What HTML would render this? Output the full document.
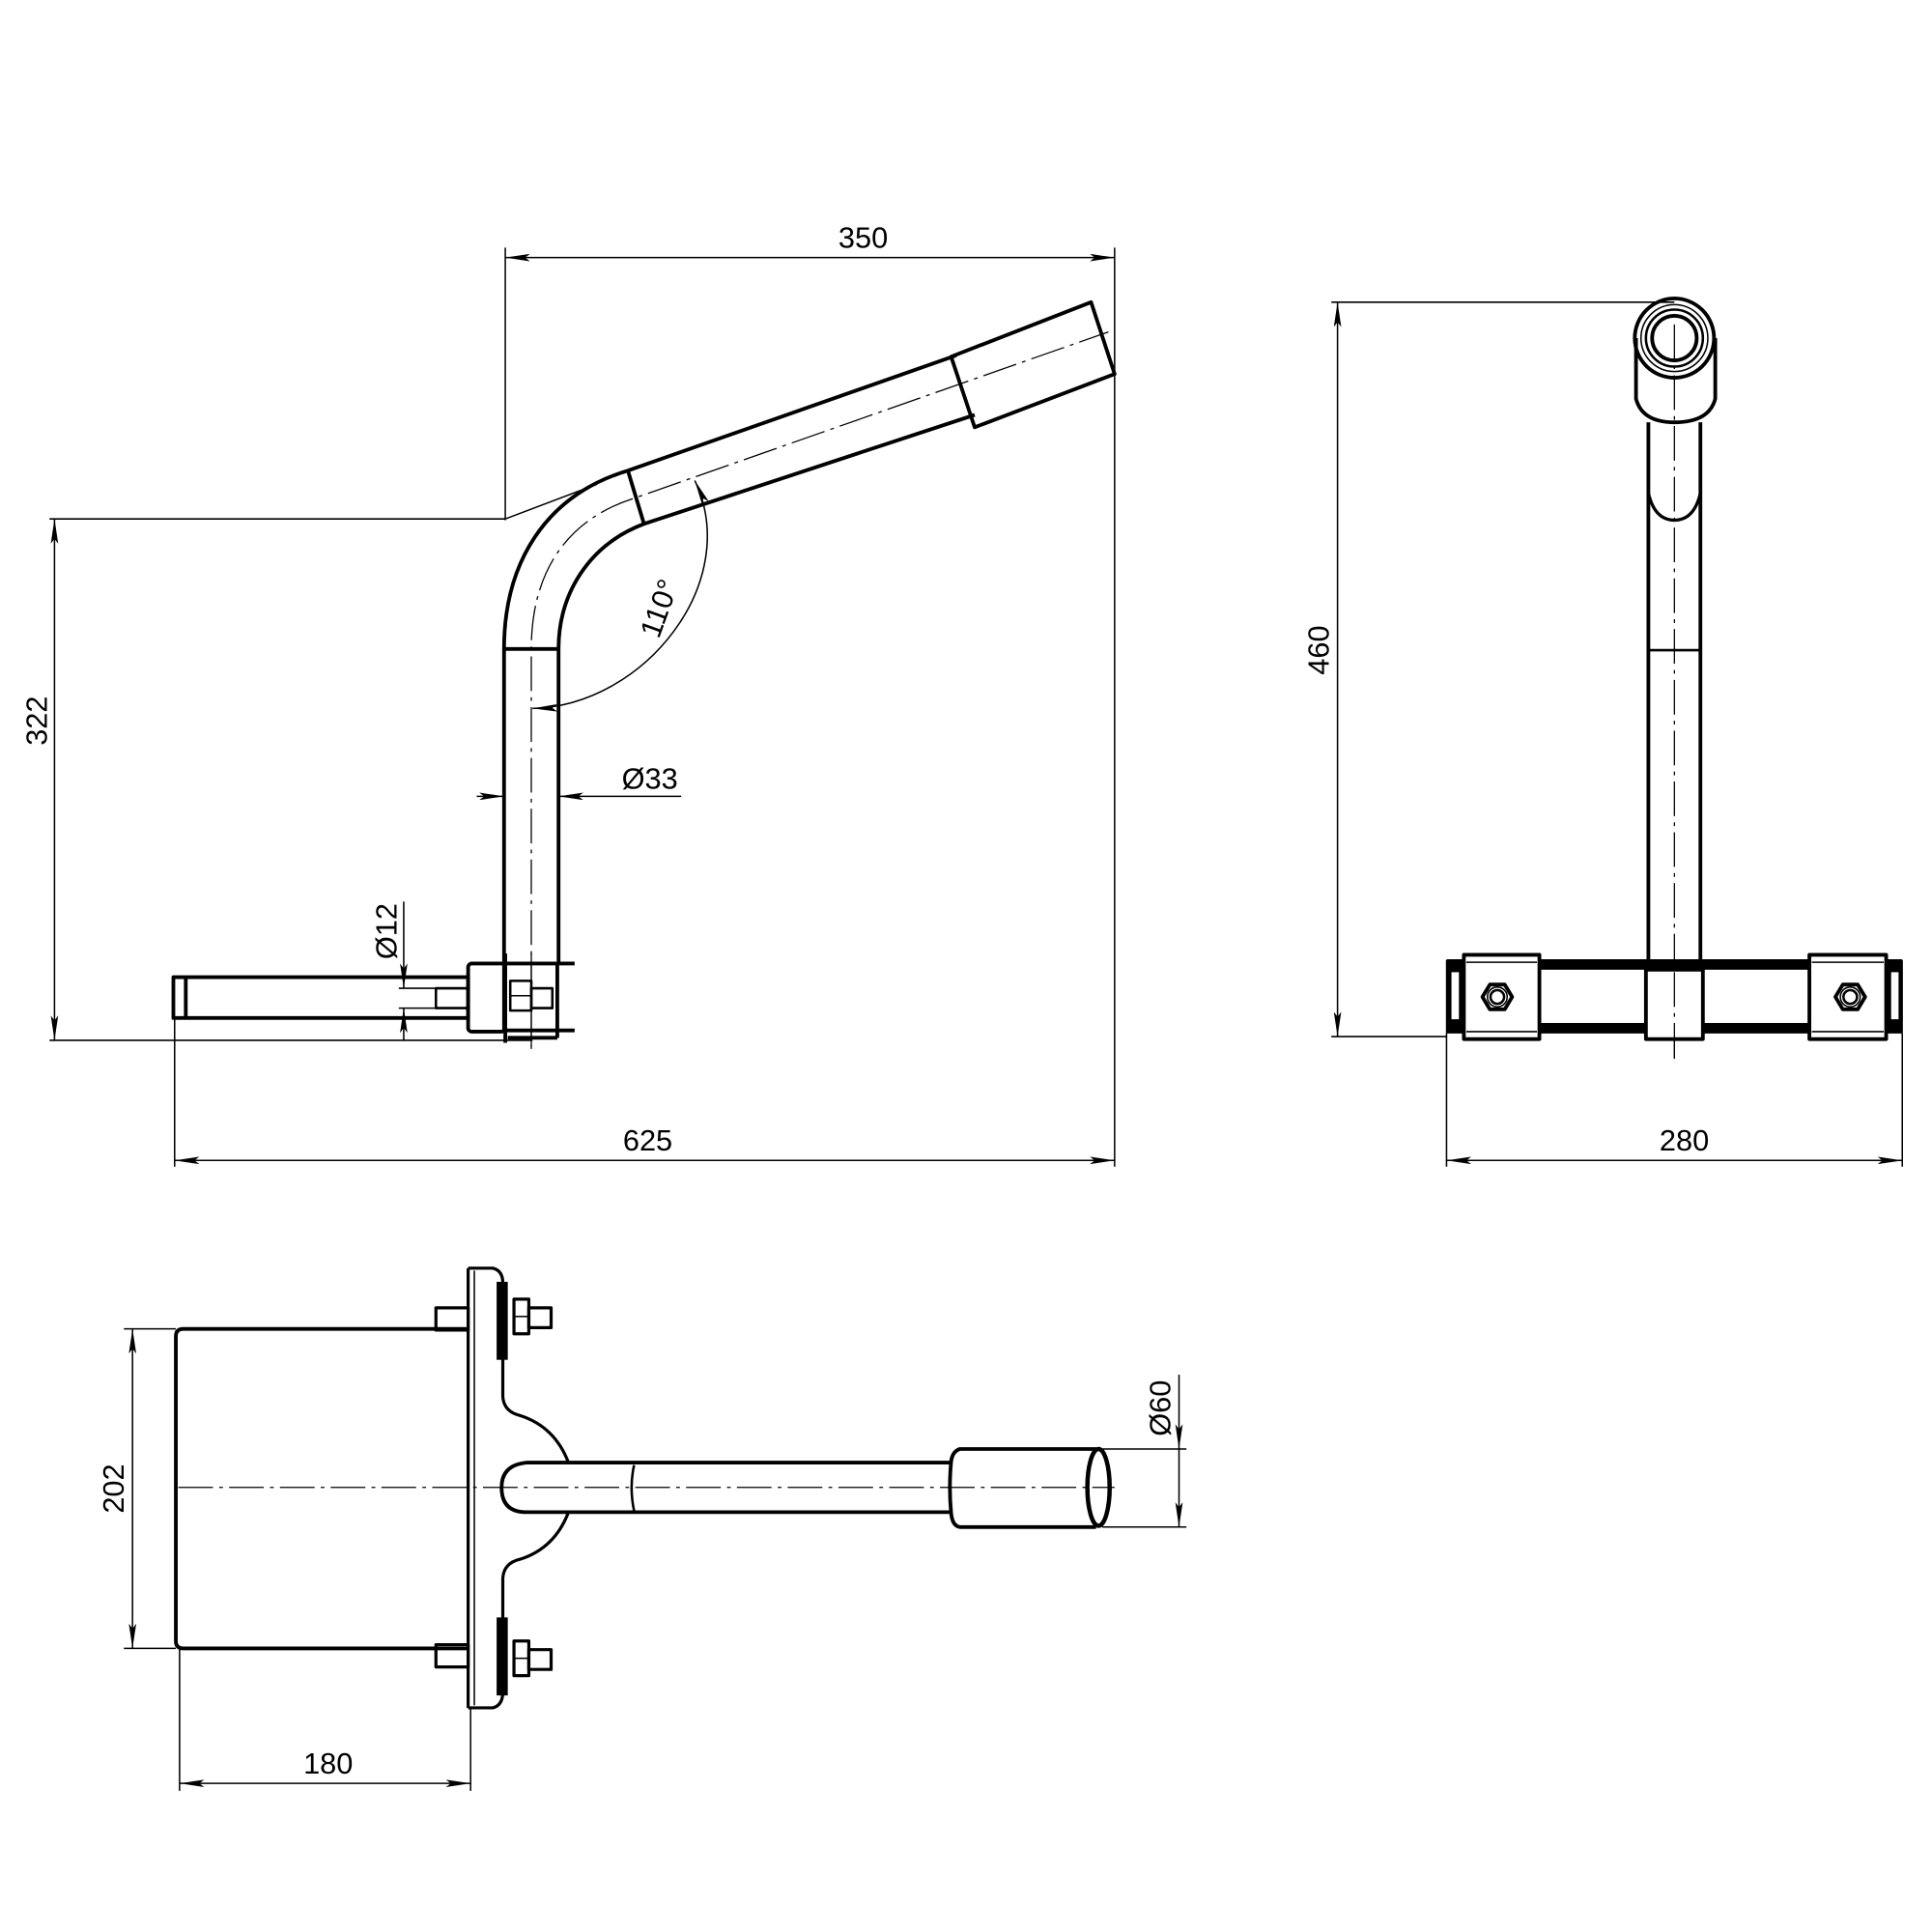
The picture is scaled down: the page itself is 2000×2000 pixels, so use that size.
<!DOCTYPE html>
<html><head><meta charset="utf-8"><style>html,body{margin:0;padding:0;background:#fff}svg{display:block}</style></head>
<body>
<svg width="2000" height="2000" viewBox="0 0 1560 1560" xmlns="http://www.w3.org/2000/svg">
<defs>
<marker id="a" viewBox="0 0 20 6" refX="20" refY="3" markerWidth="20" markerHeight="6" markerUnits="userSpaceOnUse" orient="auto-start-reverse"><path d="M0,0 L20,3 L0,6 L4,3 Z" fill="#000"/></marker>
</defs>
<style>
.t{stroke:#000;stroke-width:1.2;fill:none}
.k{stroke:#000;stroke-width:3;fill:none;stroke-linejoin:round}
.c{stroke:#000;stroke-width:1;fill:none;stroke-dasharray:28 5 3 5}
.d{stroke:#000;stroke-width:1.2;fill:none;marker-start:url(#a);marker-end:url(#a)}
text{font-family:"Liberation Sans Narrow","Liberation Sans",sans-serif;font-size:24px;fill:#000;font-stretch:condensed}
</style>
<rect width="1560" height="1560" fill="#fff"/>

<!-- ========== SIDE VIEW ========== -->
<line class="t" x1="408" y1="200" x2="408" y2="420"/>
<line class="t" x1="900" y1="200" x2="900" y2="942"/>
<line class="d" x1="408" y1="208" x2="900" y2="208"/>
<text x="697" y="200" text-anchor="middle">350</text>

<line class="t" x1="40" y1="419" x2="408" y2="419"/>
<line class="t" x1="408" y1="419" x2="482" y2="391"/>
<line class="t" x1="40" y1="840" x2="430" y2="840"/>
<line class="d" x1="44" y1="419" x2="44" y2="840"/>
<text transform="translate(38,582) rotate(-90)" text-anchor="middle">322</text>

<!-- tube -->
<path class="k" d="M407,833 L407,524 C407,455 440,400 507,380 L772,287"/>
<path class="k" d="M451,778 L451,524 C451,480 475,440 520,423 L787,335"/>
<line class="k" x1="407" y1="524" x2="451" y2="524"/>
<line class="k" x1="507" y1="380" x2="520" y2="423"/>
<polygon class="k" points="768,288 881,244 900,302 787,345"/>
<path class="c" d="M429,845 L429,524 C429,465 455,420 513,402 L895,268"/>

<!-- 110 arc -->
<path class="t" d="M430,572 C520,570 600,470 561,388" marker-start="url(#a)" marker-end="url(#a)"/>
<text transform="translate(540,494) rotate(-70)" text-anchor="middle">110°</text>

<!-- d33 -->
<line class="t" x1="385" y1="643" x2="407" y2="643" marker-end="url(#a)"/>
<line class="t" x1="550" y1="643" x2="451" y2="643" marker-end="url(#a)"/>
<text x="502" y="637">Ø33</text>

<!-- bracket -->
<rect class="k" x="140" y="789" width="238" height="33"/>
<line class="k" x1="150" y1="789" x2="150" y2="822"/>
<rect class="k" x="378" y="778" width="30" height="55" rx="3"/>
<line class="k" x1="408" y1="778" x2="464" y2="778"/>
<line class="k" x1="408" y1="832" x2="464" y2="832"/>
<line class="k" x1="450" y1="778" x2="450" y2="838"/>
<line class="k" x1="408" y1="770" x2="408" y2="842"/>
<line class="k" x1="410" y1="838" x2="450" y2="838"/>
<rect class="k" x="352" y="798" width="26" height="16" style="stroke-width:2"/>
<rect class="k" x="412" y="792" width="17" height="24" style="stroke-width:2"/>
<line class="t" x1="412" y1="804" x2="429" y2="804"/>
<rect class="k" x="429" y="798" width="17" height="16" style="stroke-width:2"/>
<line class="c" x1="429" y1="770" x2="429" y2="850"/>
<line class="t" x1="322" y1="798" x2="352" y2="798"/>
<line class="t" x1="322" y1="814" x2="352" y2="814"/>
<line class="t" x1="326" y1="728" x2="326" y2="798" marker-end="url(#a)"/>
<line class="t" x1="326" y1="840" x2="326" y2="814" marker-end="url(#a)"/>
<text transform="translate(320,752) rotate(-90)" text-anchor="middle">Ø12</text>

<line class="t" x1="141" y1="822" x2="141" y2="942"/>
<line class="d" x1="141" y1="937" x2="900" y2="937"/>
<text x="523" y="929" text-anchor="middle">625</text>

<!-- ========== FRONT VIEW ========== -->
<line class="t" x1="1075" y1="244" x2="1352" y2="244"/>
<line class="t" x1="1075" y1="837" x2="1168" y2="837"/>
<line class="d" x1="1080" y1="244" x2="1080" y2="837"/>
<text transform="translate(1073,525) rotate(-90)" text-anchor="middle">460</text>

<path class="k" d="M1321,273 L1321,322 Q1326,341 1352,341 Q1380,341 1385,322 L1385,273"/>
<circle class="k" cx="1352" cy="273" r="32"/>
<circle class="t" cx="1352" cy="273" r="27"/>
<circle class="k" cx="1352" cy="273" r="23" style="stroke-width:2"/>
<circle class="k" cx="1352" cy="273" r="18"/>
<line class="k" x1="1331" y1="341" x2="1331" y2="778"/>
<line class="k" x1="1373" y1="341" x2="1373" y2="778"/>
<path class="k" d="M1331,398 Q1336,420 1352,420 Q1368,420 1373,398" style="stroke-width:2.5"/>
<line class="k" x1="1331" y1="525" x2="1373" y2="525" style="stroke-width:2"/>
<line class="c" x1="1352" y1="262" x2="1352" y2="855"/>

<!-- bar -->
<rect x="1168" y="775" width="368" height="8" fill="#000"/>
<rect x="1168" y="826" width="368" height="8" fill="#000"/>
<rect class="k" x="1169" y="776" width="366" height="57"/>
<rect x="1168" y="775" width="13" height="59" fill="#000"/>
<rect x="1172" y="785" width="6" height="38" fill="#fff"/>
<rect x="1523" y="775" width="13" height="59" fill="#000"/>
<rect x="1527" y="785" width="6" height="38" fill="#fff"/>
<rect class="k" x="1182" y="771" width="61" height="68" fill="#fff" style="fill:#fff"/>
<line class="t" x1="1184" y1="777" x2="1241" y2="777"/><line class="t" x1="1184" y1="833" x2="1241" y2="833"/>
<rect class="k" x="1461" y="771" width="62" height="68" style="fill:#fff"/>
<line class="t" x1="1463" y1="777" x2="1521" y2="777"/><line class="t" x1="1463" y1="833" x2="1521" y2="833"/>
<rect class="k" x="1329" y="783" width="46" height="56" style="fill:#fff"/>
<line class="c" x1="1352" y1="785" x2="1352" y2="855"/>
<polygon class="k" points="1221,805 1215,815 1203,815 1197,805 1203,795 1215,795" transform="translate(0,0)"/>
<circle class="t" cx="1209" cy="805" r="8"/><circle class="k" cx="1209" cy="805" r="5.5" style="stroke-width:2"/>
<polygon class="k" points="1506,805 1500,815 1488,815 1482,805 1488,795 1500,795"/>
<circle class="t" cx="1494" cy="805" r="8"/><circle class="k" cx="1494" cy="805" r="5.5" style="stroke-width:2"/>

<line class="t" x1="1168" y1="834" x2="1168" y2="942"/>
<line class="t" x1="1536" y1="834" x2="1536" y2="942"/>
<line class="d" x1="1168" y1="937" x2="1536" y2="937"/>
<text x="1360" y="929" text-anchor="middle">280</text>

<!-- ========== TOP VIEW ========== -->
<path class="k" d="M378,1073 L148,1073 Q142,1073 142,1079 L142,1325 Q142,1331 148,1331 L378,1331"/>
<line class="c" x1="144" y1="1201" x2="900" y2="1201"/>
<line class="t" x1="100" y1="1073" x2="142" y2="1073"/>
<line class="t" x1="100" y1="1331" x2="142" y2="1331"/>
<line class="d" x1="107" y1="1073" x2="107" y2="1331"/>
<text transform="translate(100,1202) rotate(-90)" text-anchor="middle">202</text>

<!-- plate -->
<line class="k" x1="378" y1="1024" x2="378" y2="1379" style="stroke-width:2.5"/>
<line class="t" x1="383" y1="1026" x2="383" y2="1377"/>
<path class="k" style="stroke-width:2.5" d="M378,1024 L398,1024 Q406,1026 406,1036 L406,1128 Q407,1140 420,1143 Q448,1152 459,1181 M459,1221 Q448,1250 420,1259 Q407,1262 406,1274 L406,1366 Q406,1377 398,1379 L378,1379"/>
<!-- bolts top -->
<rect x="401" y="1035" width="9" height="63" fill="#000"/>
<rect class="k" x="352" y="1056" width="26" height="18" style="stroke-width:2.5"/>
<rect class="k" x="415" y="1049" width="12" height="28" style="stroke-width:2.5"/>
<line class="t" x1="415" y1="1063" x2="427" y2="1063"/>
<rect class="k" x="427" y="1056" width="18" height="16" style="stroke-width:2.5"/>
<!-- bolts bottom -->
<rect x="401" y="1306" width="9" height="63" fill="#000"/>
<rect class="k" x="352" y="1328" width="26" height="18" style="stroke-width:2.5"/>
<rect class="k" x="415" y="1325" width="12" height="28" style="stroke-width:2.5"/>
<line class="t" x1="415" y1="1339" x2="427" y2="1339"/>
<rect class="k" x="427" y="1332" width="18" height="16" style="stroke-width:2.5"/>

<!-- tube -->
<path class="k" d="M769,1181 L425,1181 Q405,1183 405,1201 Q405,1221 425,1221 L769,1221"/>
<path class="k" style="stroke-width:2" d="M512,1183 Q508,1201 512,1220"/>
<path class="k" d="M885,1170 L775,1170 Q769,1172 768,1180 Q766,1201 768,1222 Q769,1232 775,1233 L885,1233"/>
<ellipse class="k" cx="887" cy="1201" rx="9" ry="31" style="stroke-width:3.5"/>

<line class="t" x1="890" y1="1170" x2="958" y2="1170"/>
<line class="t" x1="890" y1="1233" x2="958" y2="1233"/>
<line class="t" x1="952" y1="1110" x2="952" y2="1170" marker-end="url(#a)"/>
<line class="t" x1="952" y1="1233" x2="952" y2="1170" marker-start="url(#a)"/>
<text transform="translate(945,1137) rotate(-90)" text-anchor="middle">Ø60</text>

<line class="t" x1="145" y1="1331" x2="145" y2="1446"/>
<line class="t" x1="380" y1="1379" x2="380" y2="1446"/>
<line class="d" x1="145" y1="1440" x2="380" y2="1440"/>
<text x="265" y="1432" text-anchor="middle">180</text>
</svg>
</body></html>
